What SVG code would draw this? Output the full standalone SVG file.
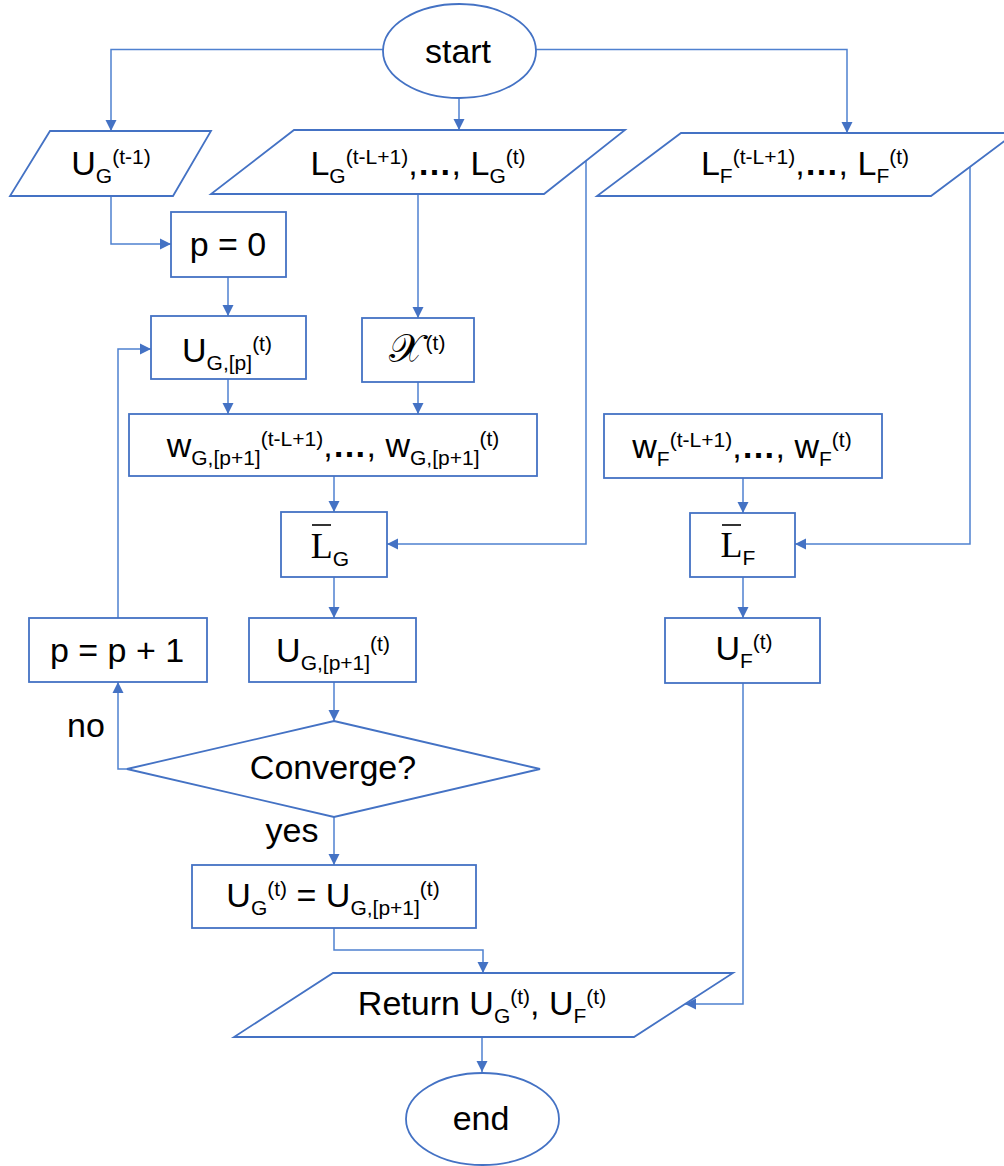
<svg xmlns="http://www.w3.org/2000/svg" width="1004" height="1166" viewBox="0 0 1004 1166">
<defs>
<style>
.sh{fill:#fff;stroke:#4472C4;stroke-width:1.8}
.c{fill:none;stroke:#4F81D0;stroke-width:1.5}
.t{font-family:"Liberation Sans",Arial,sans-serif;font-size:34px;fill:#000;text-anchor:middle}
.s{font-size:21px}
.sf{font-family:"Liberation Serif","Times New Roman",serif;font-size:36px}
.el{font-weight:bold}
.ol{stroke:#000;stroke-width:1.6}
</style>
<marker id="ah" markerUnits="userSpaceOnUse" markerWidth="12" markerHeight="12" refX="11" refY="6" orient="auto">
<path d="M0,0.5 L11,6 L0,11.5 z" fill="#4472C4"/>
</marker>
</defs>
<rect width="1004" height="1166" fill="#fff"/>
<g id="connectors">
<path class="c" d="M383,49.5 H111 V131" marker-end="url(#ah)"/>
<path class="c" d="M459,99 V130" marker-end="url(#ah)"/>
<path class="c" d="M536,49.5 H847 V133" marker-end="url(#ah)"/>
<path class="c" d="M111,196 V244 H171" marker-end="url(#ah)"/>
<path class="c" d="M228,277 V316" marker-end="url(#ah)"/>
<path class="c" d="M418,194 V318" marker-end="url(#ah)"/>
<path class="c" d="M586,161 V544 H387" marker-end="url(#ah)"/>
<path class="c" d="M228,379 V414" marker-end="url(#ah)"/>
<path class="c" d="M418,382 V414" marker-end="url(#ah)"/>
<path class="c" d="M334,476 V512" marker-end="url(#ah)"/>
<path class="c" d="M334,577 V618" marker-end="url(#ah)"/>
<path class="c" d="M334,682 V721" marker-end="url(#ah)"/>
<path class="c" d="M127,769 H118 V682" marker-end="url(#ah)"/>
<path class="c" d="M118,618 V349 H151" marker-end="url(#ah)"/>
<path class="c" d="M334,817 V865" marker-end="url(#ah)"/>
<path class="c" d="M334,928 V950 H483 V973" marker-end="url(#ah)"/>
<path class="c" d="M970,167 V544 H795" marker-end="url(#ah)"/>
<path class="c" d="M743,478 V513" marker-end="url(#ah)"/>
<path class="c" d="M743,577 V618" marker-end="url(#ah)"/>
<path class="c" d="M743,683 V1004 H685" marker-end="url(#ah)"/>
<path class="c" d="M482,1037 V1072" marker-end="url(#ah)"/>
</g>
<g id="start">
<ellipse class="sh" cx="459.5" cy="51" rx="76.5" ry="47"/>
<text class="t" x="458" y="63">start</text>
</g>
<g id="ug_prev">
<polygon class="sh" points="50,131 211,131 173,196 10,196"/>
<text class="t" x="111" y="175">U<tspan class="s" dy="8">G</tspan><tspan class="s" dy="-19">(t-1)</tspan></text>
</g>
<g id="lg_input">
<polygon class="sh" points="294,130 625,130 544,194 211,194"/>
<text class="t" x="418" y="175">L<tspan class="s" dy="8">G</tspan><tspan class="s" dy="-19">(t-L+1)</tspan><tspan dy="11">,</tspan><tspan class="el">…</tspan>, L<tspan class="s" dy="8">G</tspan><tspan class="s" dy="-19">(t)</tspan></text>
</g>
<g id="lf_input">
<polygon class="sh" points="681,133 1015,133 931,196 597,196"/>
<text class="t" x="805" y="175">L<tspan class="s" dy="8">F</tspan><tspan class="s" dy="-19">(t-L+1)</tspan><tspan dy="11">,</tspan><tspan class="el">…</tspan>, L<tspan class="s" dy="8">F</tspan><tspan class="s" dy="-19">(t)</tspan></text>
</g>
<g id="p0">
<rect class="sh" x="171" y="212" width="115" height="65"/>
<text class="t" x="228" y="256">p = 0</text>
</g>
<g id="ugp">
<rect class="sh" x="151" y="316" width="155" height="63"/>
<text class="t" x="227" y="362">U<tspan class="s" dy="8">G,[p]</tspan><tspan class="s" dy="-19">(t)</tspan></text>
</g>
<g id="chi">
<rect class="sh" x="362" y="318" width="112" height="64"/>
<text class="t" x="417" y="362"><tspan style="font-family:'DejaVu Serif','Noto Sans',serif;font-size:40px">𝒳</tspan><tspan class="s" dx="3" dy="-12">(t)</tspan></text>
</g>
<g id="wg">
<rect class="sh" x="129" y="414" width="408" height="62"/>
<text class="t" x="333" y="457">w<tspan class="s" dy="8">G,[p+1]</tspan><tspan class="s" dy="-19">(t-L+1)</tspan><tspan dy="11">,</tspan><tspan class="el">…</tspan>, w<tspan class="s" dy="8">G,[p+1]</tspan><tspan class="s" dy="-19">(t)</tspan></text>
</g>
<g id="wf">
<rect class="sh" x="604" y="414" width="278" height="64"/>
<text class="t" x="742" y="458">w<tspan class="s" dy="8">F</tspan><tspan class="s" dy="-19">(t-L+1)</tspan><tspan dy="11">,</tspan><tspan class="el">…</tspan>, w<tspan class="s" dy="8">F</tspan><tspan class="s" dy="-19">(t)</tspan></text>
</g>
<g id="lbar_g">
<rect class="sh" x="281" y="512" width="106" height="65"/>
<line class="ol" x1="312" y1="525" x2="331" y2="525"/>
<text class="t" x="330" y="558"><tspan class="sf">L</tspan><tspan class="s" dy="8">G</tspan></text>
</g>
<g id="lbar_f">
<rect class="sh" x="690" y="513" width="105" height="64"/>
<line class="ol" x1="722" y1="525" x2="741" y2="525"/>
<text class="t" x="738" y="557"><tspan class="sf">L</tspan><tspan class="s" dy="8">F</tspan></text>
</g>
<g id="pinc">
<rect class="sh" x="29" y="618" width="178" height="64"/>
<text class="t" x="117" y="662">p = p + 1</text>
</g>
<g id="ugp1">
<rect class="sh" x="249" y="618" width="167" height="64"/>
<text class="t" x="333" y="662">U<tspan class="s" dy="8">G,[p+1]</tspan><tspan class="s" dy="-19">(t)</tspan></text>
</g>
<g id="uf">
<rect class="sh" x="665" y="618" width="155" height="65"/>
<text class="t" x="744" y="660">U<tspan class="s" dy="8">F</tspan><tspan class="s" dy="-19">(t)</tspan></text>
</g>
<g id="converge">
<polygon class="sh" points="334,721 540,769 334,817 127,769"/>
<text class="t" x="333" y="779">Converge?</text>
</g>
<text class="t" x="86" y="737">no</text>
<text class="t" x="292" y="842">yes</text>
<g id="ug_assign">
<rect class="sh" x="192" y="865" width="284" height="63"/>
<text class="t" x="333" y="907">U<tspan class="s" dy="8">G</tspan><tspan class="s" dy="-19">(t)</tspan><tspan dy="11"> = U</tspan><tspan class="s" dy="8">G,[p+1]</tspan><tspan class="s" dy="-19">(t)</tspan></text>
</g>
<g id="return">
<polygon class="sh" points="333,973 733,973 634,1037 234,1037"/>
<text class="t" x="482" y="1015">Return U<tspan class="s" dy="8">G</tspan><tspan class="s" dy="-19">(t)</tspan><tspan dy="11">, U</tspan><tspan class="s" dy="8">F</tspan><tspan class="s" dy="-19">(t)</tspan></text>
</g>
<g id="end">
<ellipse class="sh" cx="482.5" cy="1119" rx="76.5" ry="46"/>
<text class="t" x="481" y="1130">end</text>
</g>
</svg>
